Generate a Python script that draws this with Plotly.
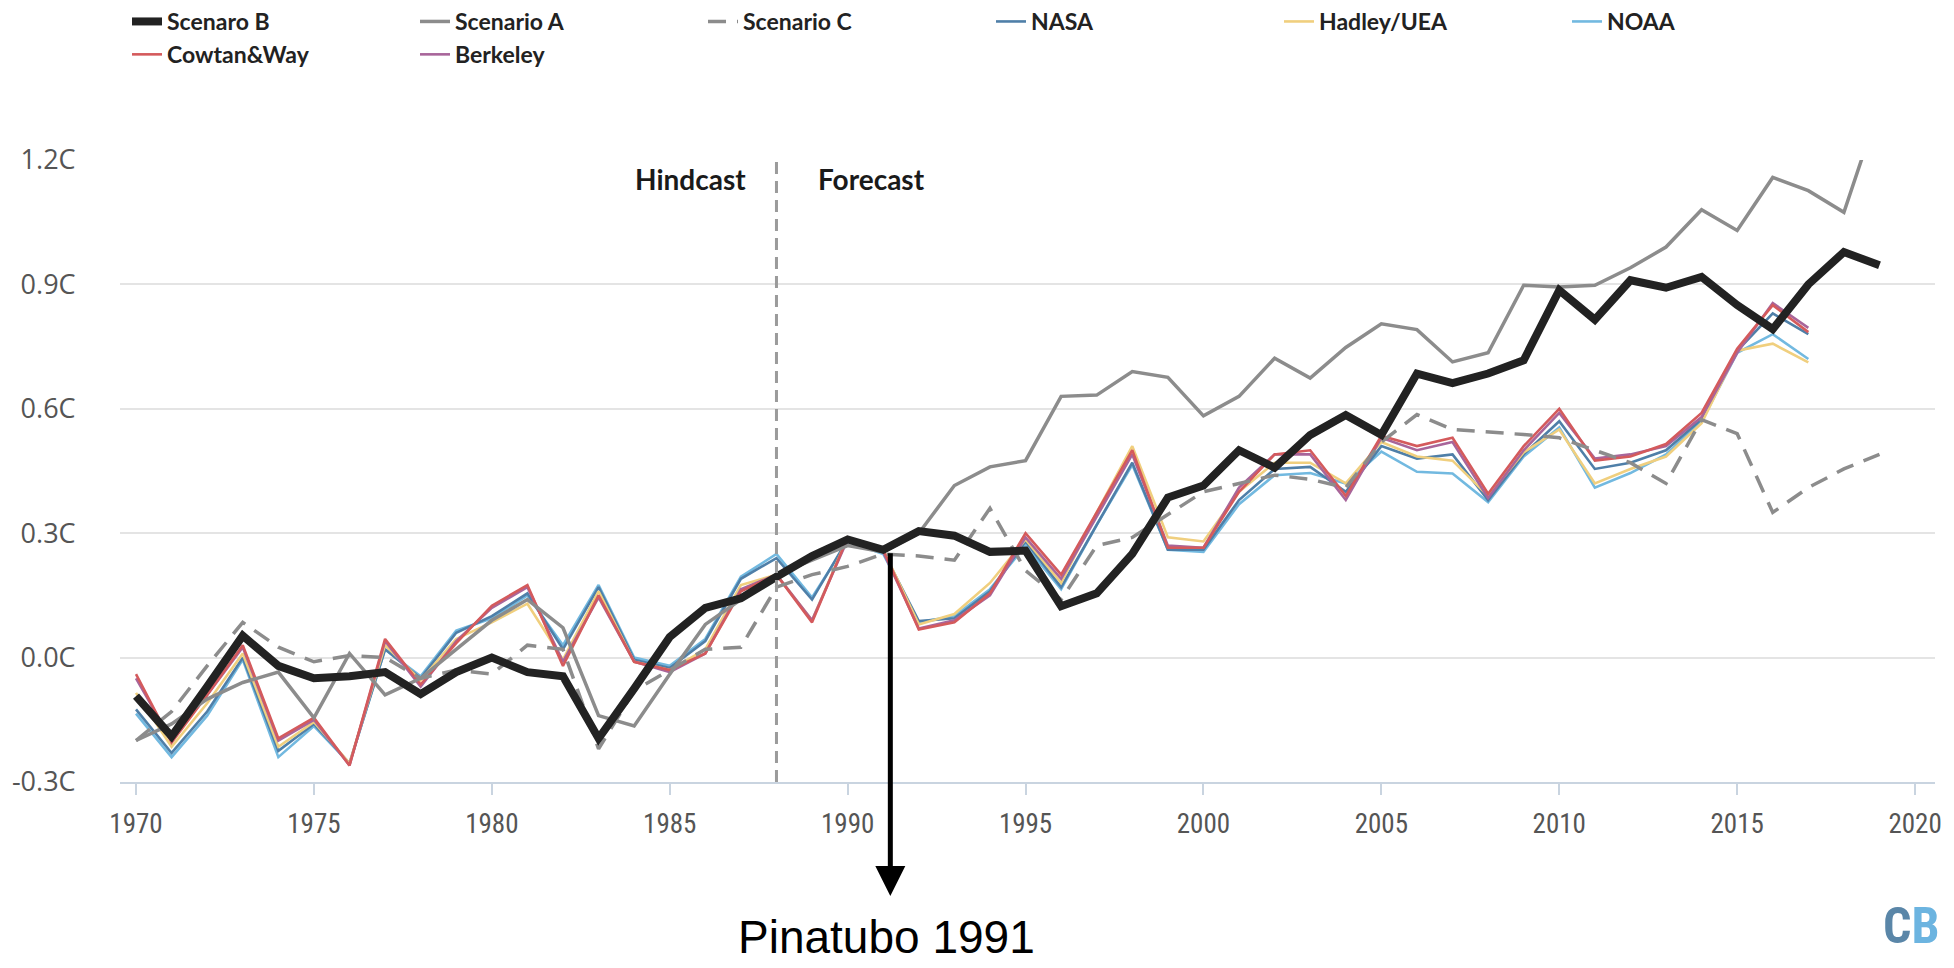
import plotly.graph_objects as go

# ---------------- data ----------------
years_scen = list(range(1970, 2020))
years_obs = list(range(1970, 2018))

scenario_b = [-0.093, -0.19, -0.07, 0.053, -0.02, -0.05, -0.045, -0.035, -0.088, -0.035,
              0.0, -0.035, -0.045, -0.195, -0.075, 0.05, 0.12, 0.143, 0.195, 0.245,
              0.285, 0.26, 0.305, 0.294, 0.255, 0.258, 0.124, 0.155, 0.25, 0.386,
              0.415, 0.5, 0.458, 0.537, 0.585, 0.537, 0.685, 0.662, 0.685, 0.717,
              0.886, 0.815, 0.91, 0.892, 0.918, 0.85, 0.792, 0.9, 0.978, 0.946]

scenario_a = [-0.2, -0.16, -0.1, -0.06, -0.035, -0.145, 0.01, -0.09, -0.05, 0.02,
              0.09, 0.14, 0.072, -0.14, -0.165, -0.04, 0.08, 0.14, 0.2, 0.235,
              0.27, 0.255, 0.3, 0.415, 0.46, 0.475, 0.63, 0.633, 0.69, 0.676,
              0.583, 0.63, 0.722, 0.674, 0.748, 0.805, 0.791, 0.713, 0.735, 0.898,
              0.894, 0.898, 0.94, 0.99, 1.08, 1.03, 1.158, 1.126, 1.074, 1.33]

scenario_c = [-0.2, -0.13, -0.02, 0.085, 0.025, -0.01, 0.005, 0.0, -0.05, -0.03,
              -0.04, 0.03, 0.02, -0.22, -0.08, -0.03, 0.02, 0.025, 0.17, 0.2,
              0.22, 0.25, 0.245, 0.235, 0.36, 0.21, 0.14, 0.27, 0.29, 0.345,
              0.4, 0.42, 0.44, 0.43, 0.41, 0.52, 0.586, 0.55, 0.545, 0.538,
              0.53, 0.5, 0.47, 0.42, 0.574, 0.54, 0.35, 0.41, 0.455, 0.49]

nasa = [-0.125, -0.23, -0.13, 0.0, -0.225, -0.16, -0.255, 0.02, -0.05, 0.06,
        0.1, 0.155, 0.02, 0.17, -0.005, -0.025, 0.04, 0.19, 0.24, 0.14,
        0.285, 0.255, 0.088, 0.095, 0.16, 0.28, 0.17, 0.32, 0.47, 0.26,
        0.26, 0.38, 0.455, 0.46, 0.4, 0.51, 0.48, 0.49, 0.38, 0.49,
        0.57, 0.455, 0.47, 0.5, 0.575, 0.74, 0.83, 0.78]

hadley = [-0.085, -0.215, -0.11, 0.01, -0.215, -0.155, -0.255, 0.03, -0.055, 0.045,
          0.085, 0.13, -0.005, 0.16, -0.01, -0.03, 0.02, 0.175, 0.2, 0.09,
          0.29, 0.26, 0.08, 0.105, 0.18, 0.285, 0.18, 0.35, 0.51, 0.29,
          0.28, 0.4, 0.47, 0.47, 0.42, 0.52, 0.485, 0.475, 0.39, 0.495,
          0.55, 0.42, 0.455, 0.485, 0.565, 0.74, 0.757, 0.712]

noaa = [-0.135, -0.24, -0.14, -0.005, -0.24, -0.165, -0.255, 0.02, -0.045, 0.065,
        0.095, 0.15, 0.03, 0.175, 0.0, -0.02, 0.045, 0.195, 0.25, 0.145,
        0.28, 0.25, 0.085, 0.1, 0.165, 0.27, 0.165, 0.32, 0.465, 0.26,
        0.255, 0.37, 0.44, 0.445, 0.42, 0.497, 0.448, 0.444, 0.375, 0.485,
        0.555, 0.41, 0.445, 0.49, 0.57, 0.735, 0.78, 0.72]

cowtan_way = [-0.04, -0.205, -0.09, 0.03, -0.195, -0.145, -0.26, 0.045, -0.065, 0.035,
              0.125, 0.175, -0.02, 0.15, -0.01, -0.03, 0.01, 0.16, 0.2, 0.085,
              0.29, 0.26, 0.068, 0.085, 0.155, 0.3, 0.2, 0.35, 0.5, 0.265,
              0.265, 0.4, 0.49, 0.5, 0.39, 0.535, 0.51, 0.53, 0.395, 0.51,
              0.6, 0.475, 0.485, 0.515, 0.59, 0.745, 0.85, 0.785]

berkeley = [-0.05, -0.2, -0.09, 0.025, -0.2, -0.15, -0.26, 0.04, -0.07, 0.04,
            0.12, 0.17, -0.01, 0.145, -0.01, -0.035, 0.01, 0.165, 0.2, 0.09,
            0.285, 0.255, 0.07, 0.09, 0.15, 0.29, 0.19, 0.34, 0.49, 0.27,
            0.265, 0.41, 0.49, 0.49, 0.38, 0.53, 0.5, 0.52, 0.385, 0.5,
            0.59, 0.48, 0.49, 0.51, 0.58, 0.735, 0.855, 0.795]

x_tickvals = [1970, 1975, 1980, 1985, 1990, 1995, 2000, 2005, 2010, 2015, 2020]
y_tickvals = [-0.3, 0.0, 0.3, 0.6, 0.9, 1.2]
y_ticktext = ["-0.3C", "0.0C", "0.3C", "0.6C", "0.9C", "1.2C"]

split_year = 1988
pinatubo_year = 1991.2
pinatubo_value = 0.255

# ---------------- figure ----------------
fig = go.Figure()

obs = [
    ("NOAA", noaa, "#72b9e0", 6),
    ("NASA", nasa, "#4f7fa8", 4),
    ("Hadley/UEA", hadley, "#f0cf7e", 5),
    ("Berkeley", berkeley, "#a8659a", 8),
    ("Cowtan&Way", cowtan_way, "#d45a5c", 7),
]
for name, vals, col, rank in obs:
    fig.add_trace(go.Scatter(x=years_obs, y=vals, name=name, mode="lines",
                             line=dict(color=col, width=2.6), legendrank=rank))

fig.add_trace(go.Scatter(x=years_scen, y=scenario_c, name="Scenario C", mode="lines",
                         line=dict(color="#8c8c8c", width=3.5, dash="18px,11px"),
                         legendrank=3))
fig.add_trace(go.Scatter(x=years_scen, y=scenario_a, name="Scenario A", mode="lines",
                         line=dict(color="#8c8c8c", width=3.5), legendrank=2))
fig.add_trace(go.Scatter(x=years_scen, y=scenario_b, name="Scenaro B", mode="lines",
                         line=dict(color="#222222", width=8), legendrank=1))

fig.add_shape(type="line", xref="x", yref="y", x0=split_year, x1=split_year,
              y0=-0.3, y1=1.2, line=dict(color="#9b9b9b", width=3, dash="12px,7px"),
              layer="above")

label_font = dict(family="Lato", size=28, color="#1a1a1a", weight="bold")
fig.add_annotation(x=split_year, y=1.155, xref="x", yref="y", text="Hindcast",
                   showarrow=False, xanchor="right", yanchor="middle", xshift=-28,
                   font=label_font)
fig.add_annotation(x=split_year, y=1.155, xref="x", yref="y", text="Forecast",
                   showarrow=False, xanchor="left", yanchor="middle", xshift=40,
                   font=label_font)

# Pinatubo arrow
fig.add_annotation(x=pinatubo_year, y=-0.575, xref="x", yref="y",
                   ax=pinatubo_year, ay=pinatubo_value, axref="x", ayref="y",
                   text="", showarrow=True, arrowhead=2, arrowsize=1.2,
                   arrowwidth=5, arrowcolor="#000000")
fig.add_annotation(x=pinatubo_year - 0.1, y=-0.249, xref="x", yref="paper",
                   text="Pinatubo 1991", showarrow=False, xanchor="center",
                   yanchor="middle",
                   font=dict(family="Liberation Sans, Arial", size=46, color="#000000"))

# CB logo
fig.add_annotation(x=1.004, y=-0.232, xref="paper", yref="paper",
                   text="<span style='color:#5a86a8'>C</span><span style='color:#6cb4e0'>B</span>",
                   showarrow=False, xanchor="right", yanchor="middle",
                   font=dict(family="Liberation Sans Narrow, Roboto Condensed, Lato",
                             size=50, weight="bold"))

fig.update_layout(
    width=1954, height=968,
    margin=dict(l=120, r=16, t=160, b=186),
    plot_bgcolor="white", paper_bgcolor="white",
    showlegend=True,
    legend=dict(orientation="h", xref="container", yref="container",
                x=0.065, y=1.0, xanchor="left", yanchor="top",
                entrywidth=243, entrywidthmode="pixels", traceorder="normal",
                font=dict(family="Lato", size=23, color="#222222", weight="bold"),
                bgcolor="rgba(0,0,0,0)"),
    xaxis=dict(range=[1969.55, 2020.56], tickvals=x_tickvals, showgrid=False,
               zeroline=False, showline=True, linecolor="#c9d4e0", linewidth=2,
               ticks="outside", ticklen=11, tickwidth=1.5, tickcolor="#c9d4e0",
               tickfont=dict(family="Liberation Sans Narrow, Roboto Condensed, Lato",
                             size=27, color="#555555"),
               ticklabelstandoff=6),
    yaxis=dict(range=[-0.3, 1.2], tickvals=y_tickvals, ticktext=y_ticktext,
               showgrid=True, gridcolor="#e4e4e4", gridwidth=2, zeroline=False,
               showline=False, ticks="outside", ticklen=38,
               tickcolor="rgba(0,0,0,0)",
               tickfont=dict(family="Open Sans", size=27, color="#555555")),
)

fig.write_html("out.html", config={"displayModeBar": False},
               post_script="document.body.style.margin='0';document.body.style.overflow='hidden';")
